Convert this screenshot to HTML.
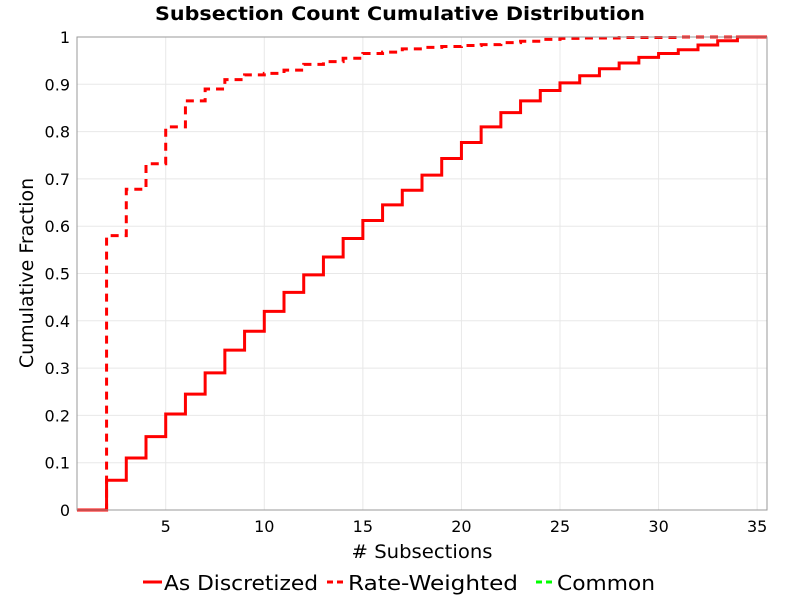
<!DOCTYPE html>
<html><head><meta charset="utf-8"><style>
body{margin:0;background:#fff;font-family:"DejaVu Sans","Liberation Sans",sans-serif}
svg text{font-family:"DejaVu Sans","Liberation Sans",sans-serif}
</style></head><body>
<svg id="c" width="800" height="600" xmlns="http://www.w3.org/2000/svg">
<text x="400" y="20" text-anchor="middle" font-size="19" font-weight="bold" textLength="490" lengthAdjust="spacingAndGlyphs">Subsection Count Cumulative Distribution</text>
<g id="grid"></g>
<g id="ticks"></g>
<g id="series"></g>
<rect x="77" y="37" width="690" height="473" fill="none" stroke="#999"/>
<text x="422" y="558" text-anchor="middle" font-size="19" textLength="141" lengthAdjust="spacingAndGlyphs"># Subsections</text>
<text transform="translate(33,273) rotate(-90)" text-anchor="middle" font-size="19">Cumulative Fraction</text>
<g>
<g><line x1="143" y1="582" x2="162" y2="582" stroke="red" stroke-width="3"/><text x="164" y="590" font-size="20" textLength="154" lengthAdjust="spacingAndGlyphs">As Discretized</text></g>
<g><line x1="327" y1="582" x2="346" y2="582" stroke="red" stroke-width="3" stroke-dasharray="6,4"/><text x="348" y="590" font-size="20" textLength="170" lengthAdjust="spacingAndGlyphs">Rate-Weighted</text></g>
<g><line x1="536" y1="582" x2="555" y2="582" stroke="#0f0" stroke-width="3" stroke-dasharray="6,4"/><text x="557" y="590" font-size="20" textLength="98" lengthAdjust="spacingAndGlyphs">Common</text></g>
</g>
</svg>
<script>
const xs=[1,2,3,4,5,6,7,8,9,10,11,12,13,14,15,16,17,18,19,20,21,22,23,24,25,26,27,28,29,30,31,32,33,34,35];
const discretized=[0,0.063,0.11,0.155,0.203,0.245,0.29,0.338,0.378,0.42,0.46,0.497,0.535,0.574,0.612,0.645,0.676,0.708,0.743,0.777,0.81,0.84,0.865,0.887,0.903,0.918,0.933,0.945,0.957,0.965,0.973,0.983,0.992,1.0,1.0];
const rateWeighted=[0,0.58,0.678,0.732,0.81,0.865,0.89,0.91,0.92,0.923,0.93,0.942,0.948,0.955,0.965,0.968,0.975,0.978,0.98,0.982,0.984,0.988,0.991,0.995,0.997,0.998,0.998,0.999,0.999,0.999,1,1,1,1,1];
const xTicks=[5,10,15,20,25,30,35];
const yTicks=[0,0.1,0.2,0.3,0.4,0.5,0.6,0.7,0.8,0.9,1];
const yTickLabels=["0","0.1","0.2","0.3","0.4","0.5","0.6","0.7","0.8","0.9","1"];
const X0=77,X1=767,Y0=510,Y1=37,xmin=0.5,xmax=35.5;
const sx=v=>X0+(v-xmin)/(xmax-xmin)*(X1-X0);
const sy=v=>Y0-v*(Y0-Y1);
const NS="http://www.w3.org/2000/svg";
function mk(t,a,p){const e=document.createElementNS(NS,t);for(const k in a)e.setAttribute(k,a[k]);p.appendChild(e);return e;}
const grid=document.getElementById('grid'),ticks=document.getElementById('ticks'),ser=document.getElementById('series');
xTicks.forEach(v=>{const g=mk('line',{x1:sx(v),x2:sx(v),y1:Y1,y2:Y0,stroke:'#e8e8e8'},grid);


const t=mk('text',{x:sx(v),y:532,'text-anchor':'middle','font-size':'16'},ticks);t.textContent=v;

});
yTicks.forEach((v,i)=>{const g=mk('line',{x1:X0,x2:X1,y1:sy(v),y2:sy(v),stroke:'#e8e8e8'},grid);


const t=mk('text',{x:70,y:sy(v)+6,'text-anchor':'end','font-size':'16'},ticks);t.textContent=yTickLabels[i];

});
function stepPath(vals){let d='M'+sx(xmin)+','+sy(vals[0]);
for(let i=0;i<xs.length;i++){d+=' L'+sx(xs[i])+','+sy(i>0?vals[i-1]:vals[0])+' L'+sx(xs[i])+','+sy(vals[i]);}
d+=' L'+sx(xmax)+','+sy(vals[vals.length-1]);return d;}
const p1=mk('path',{d:stepPath(discretized),fill:'none',stroke:'red','stroke-width':3},ser);


const p2=mk('path',{d:stepPath(rateWeighted),fill:'none',stroke:'red','stroke-width':3,'stroke-dasharray':'8,6'},ser);


</script>
</body></html>
